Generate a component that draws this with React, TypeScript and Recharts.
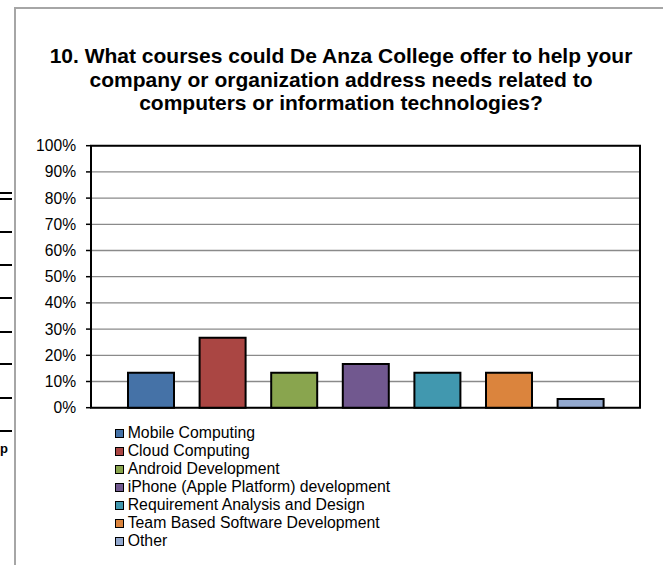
import { BarChart, Bar, XAxis, YAxis, CartesianGrid, ReferenceArea } from "recharts";

const FONT = '"Liberation Sans", Arial, sans-serif';

const titleLines = [
  "10. What courses could De Anza College offer to help your",
  "company or organization address needs related to",
  "computers or information technologies?",
];

const seriesNames = [
  "Mobile Computing",
  "Cloud Computing",
  "Android Development",
  "iPhone (Apple Platform) development",
  "Requirement Analysis and Design",
  "Team Based Software Development",
  "Other",
];
const seriesKeys = ["mobile", "cloud", "android", "iphone", "requirement", "team", "other"];
const seriesValues = [0.133, 0.267, 0.133, 0.167, 0.133, 0.133, 0.033];
const seriesColors = ["#4572A7", "#AA4643", "#89A54E", "#71588F", "#4198AF", "#DB843D", "#93A9CF"];

const yTicks = [0, 0.1, 0.2, 0.3, 0.4, 0.5, 0.6, 0.7, 0.8, 0.9, 1];

// rows of the neighbouring chart that peek in at the left edge
const edgeLines = [193, 199, 232, 265, 298, 332, 364, 398, 431];

const row: Record<string, number | string> = { name: "" };
seriesKeys.forEach((k, i) => {
  row[k] = seriesValues[i];
});
const data = [row];

export default function App() {
  return (
    <div
      style={{
        position: "absolute",
        left: 0,
        top: 0,
        width: 663,
        height: 565,
        overflow: "hidden",
        background: "#fff",
        fontFamily: FONT,
      }}
    >
      {edgeLines.map((y) => (
        <div key={y} style={{ position: "absolute", left: 0, top: y - 1, width: 12, height: 2, background: "#000" }} />
      ))}
      <div
        style={{ position: "absolute", left: 0, top: 440, fontSize: 13, fontWeight: "bold", lineHeight: "18px", color: "#000" }}
      >
        p
      </div>

      <div
        style={{
          position: "absolute",
          left: 14,
          top: 7,
          width: 700,
          height: 600,
          borderLeft: "2px solid #a6a6a6",
          borderTop: "2px solid #a6a6a6",
        }}
      />

      <div
        style={{
          position: "absolute",
          left: 30,
          top: 44.3,
          width: 622,
          textAlign: "center",
          fontSize: 21,
          fontWeight: "bold",
          lineHeight: "23.4px",
          color: "#000",
          whiteSpace: "nowrap",
        }}
      >
        {titleLines.map((t) => (
          <div key={t}>{t}</div>
        ))}
      </div>

      <div style={{ position: "absolute", left: 0, top: 0 }}>
        <BarChart
          width={663}
          height={565}
          data={data}
          margin={{ top: 145.7, right: 23, bottom: 157.3, left: 0 }}
          barSize={46}
          barGap={25.6}
        >
          <CartesianGrid vertical={false} stroke="#8a8a8a" strokeWidth={1.3} />
          <XAxis dataKey="name" hide />
          <YAxis
            width={91}
            domain={[0, 1]}
            ticks={yTicks}
            interval={0}
            tickFormatter={(v: number) => `${Math.round(v * 100)}%`}
            tick={{ fontSize: 15.6, fill: "#000", fontFamily: FONT }}
            tickSize={5}
            tickMargin={10}
            tickLine={{ stroke: "#000", strokeWidth: 1.5 }}
            axisLine={{ stroke: "#000", strokeWidth: 2 }}
          />
          <ReferenceArea y1={0} y2={1} fill="none" stroke="#000" strokeWidth={2} />
          {seriesKeys.map((k, i) => (
            <Bar
              key={k}
              dataKey={k}
              name={seriesNames[i]}
              fill={seriesColors[i]}
              stroke="#000"
              strokeWidth={2}
              isAnimationActive={false}
            />
          ))}
        </BarChart>
      </div>

      <div style={{ position: "absolute", left: 115, top: 423.5, fontSize: 15.8, lineHeight: "18.07px", color: "#000" }}>
        {seriesNames.map((n, i) => (
          <div key={n} style={{ position: "relative", paddingLeft: 12.7, whiteSpace: "nowrap" }}>
            <span
              style={{
                position: "absolute",
                left: 0,
                top: 5,
                width: 7,
                height: 7,
                background: seriesColors[i],
                border: "1.5px solid #000",
              }}
            />
            {n}
          </div>
        ))}
      </div>
    </div>
  );
}
